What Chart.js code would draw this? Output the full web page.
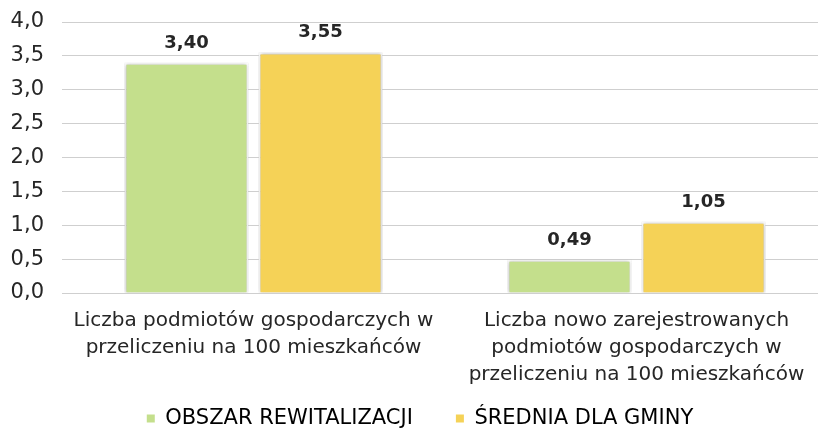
<!DOCTYPE html>
<html>
<head>
<meta charset="utf-8">
<script src="https://cdn.jsdelivr.net/npm/chart.js@4.4.1/dist/chart.umd.min.js"></script>
<style>
  html, body { margin: 0; padding: 0; background: #ffffff; overflow: hidden; }
  #wrap { width: 818px; height: 430px; overflow: hidden; }
</style>
</head>
<body>
<div id="wrap"><canvas id="myChart" width="828" height="430"></canvas></div>
<script>
const categories = [
    ['Liczba podmiotów gospodarczych w', 'przeliczeniu na 100 mieszkańców'],
    ['Liczba nowo zarejestrowanych', 'podmiotów gospodarczych w', 'przeliczeniu na 100 mieszkańców']
];
const seriesNames = ['OBSZAR REWITALIZACJI', 'ŚREDNIA DLA GMINY'];
const obszarValues = [3.40, 0.49];
const gminaValues = [3.55, 1.05];
const yTicks = [0, 0.5, 1, 1.5, 2, 2.5, 3, 3.5, 4];

const fontFamily = "'DejaVu Sans', 'Noto Sans', sans-serif";
const plComma = (v, d) => v.toFixed(d).replace('.', ',');

// soft grey halo behind the bars
const barShadow = {
    id: 'barShadow',
    beforeDatasetsDraw(chart) {
        const ctx = chart.ctx;
        ctx.save();
        ctx.shadowColor = 'rgba(120,120,120,0.55)';
        ctx.shadowBlur = 4;
    },
    afterDatasetsDraw(chart) {
        chart.ctx.restore();
    }
};

// value labels above each bar
const valueLabels = {
    id: 'valueLabels',
    afterDatasetsDraw(chart) {
        const ctx = chart.ctx;
        ctx.save();
        ctx.font = "bold 18px " + fontFamily;
        ctx.fillStyle = '#262626';
        ctx.textAlign = 'center';
        ctx.textBaseline = 'alphabetic';
        chart.data.datasets.forEach((ds, i) => {
            chart.getDatasetMeta(i).data.forEach((bar, j) => {
                ctx.fillText(plComma(ds.data[j], 2), bar.x, bar.y - 15);
            });
        });
        ctx.restore();
    }
};

// legend keeps a wide gap between items but only takes a short strip at the bottom
const legendPlace = {
    id: 'legendPlace',
    beforeLayout(chart) {
        const lg = chart.legend;
        if (lg && !lg._shortFit) {
            const fit = lg.fit;
            lg.fit = function() {
                fit.call(this);
                this.height = 44;
            };
            lg._shortFit = true;
        }
    },
    afterLayout(chart) {
        const lg = chart.legend;
        lg.left += 1;
        lg.right += 1;
        lg.top = 365;
        lg.bottom = chart.height;
        lg.height = lg.bottom - lg.top;
    }
};

const renderChart = () => {
    var ctx = document.getElementById('myChart').getContext('2d');
    new Chart(ctx, {
        type: 'bar',
        data: {
            labels: categories,
            datasets: [{
                label: seriesNames[0],
                data: obszarValues,
                backgroundColor: '#c4df8c',
                borderColor: '#ffffff',
                borderWidth: 2,
                categoryPercentage: 0.70,
                barPercentage: 0.925
            }, {
                label: seriesNames[1],
                data: gminaValues,
                backgroundColor: '#f5d257',
                borderColor: '#ffffff',
                borderWidth: 2,
                categoryPercentage: 0.70,
                barPercentage: 0.925
            }]
        },
        options: {
            responsive: false,
            animation: false,
            layout: { padding: { top: 0, right: 0, left: 10, bottom: 0 } },
            plugins: {
                tooltip: { enabled: false },
                legend: {
                    position: 'bottom',
                    labels: {
                        boxWidth: 8,
                        boxHeight: 8,
                        padding: 43,
                        color: '#262626',
                        font: { family: fontFamily, size: 21 },
                        generateLabels(chart) {
                            return chart.data.datasets.map((ds, i) => ({
                                text: ds.label,
                                fillStyle: ds.backgroundColor,
                                strokeStyle: ds.backgroundColor,
                                lineWidth: 0,
                                datasetIndex: i
                            }));
                        }
                    }
                }
            },
            scales: {
                x: {
                    grid: { display: false, drawTicks: false },
                    border: { display: false },
                    ticks: {
                        color: '#262626',
                        font: { family: fontFamily, size: 20, lineHeight: 1.35 },
                        maxRotation: 0,
                        autoSkip: false,
                        padding: 14
                    },
                    afterFit(axis) {
                        // wide category labels may hang past the plot edges
                        axis.paddingLeft = 0;
                        axis.paddingRight = 0;
                        axis.height = 93;
                    }
                },
                y: {
                    min: 0,
                    max: 4,
                    afterBuildTicks(axis) {
                        axis.ticks = yTicks.map(v => ({ value: v }));
                    },
                    grid: { color: '#cfcfcf', lineWidth: 1, drawTicks: false },
                    border: { display: false },
                    ticks: {
                        color: '#262626',
                        padding: 18,
                        font: { family: fontFamily, size: 21 },
                        callback: v => plComma(v, 1)
                    },
                    afterFit(axis) {
                        axis.width = 52;
                        axis.paddingTop = 22;
                        axis.paddingBottom = 0;
                    }
                }
            }
        },
        plugins: [barShadow, valueLabels, legendPlace]
    });
};

document.addEventListener('DOMContentLoaded', function() {
    renderChart();
});
</script>
</body>
</html>
